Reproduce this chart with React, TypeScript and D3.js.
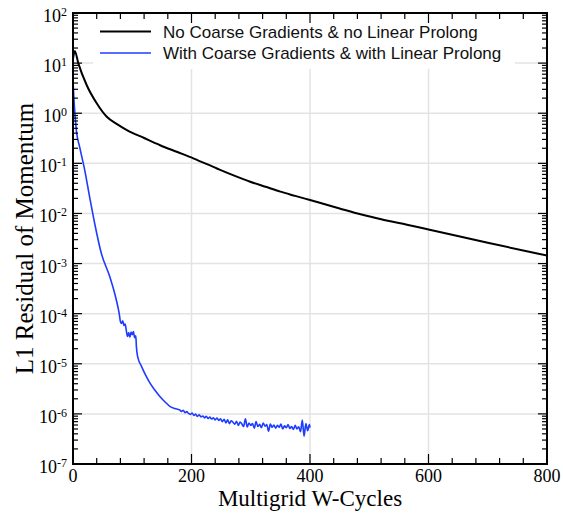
import * as d3 from "d3"

// black curve: no coarse gradients & no linear prolong
const blackIter = [0, 3, 9, 23, 40, 57, 75, 91, 120, 147, 175, 203, 243, 270, 299, 325, 350, 375, 400, 450, 475, 501, 525, 550, 600, 700, 800]
const blackRes = [12, 17.5, 9.9, 3.66, 1.58, 0.85, 0.6, 0.46, 0.32, 0.23, 0.17, 0.126, 0.079, 0.0582, 0.043, 0.034, 0.0272, 0.0224, 0.0185, 0.0126, 0.01035, 0.0087, 0.0074, 0.00646, 0.0048, 0.0026, 0.00144]

// blue curve: with coarse gradients & with linear prolong
const blueIter = [
  0, 1.7, 5.6, 11.3, 19.7, 28, 36.6, 47.8, 62, 73,
  78, 80, 82, 84, 86, 88, 90, 92, 94, 96, 98, 100, 102, 104, 106, 107, 109,
  116, 123, 130, 138, 147, 155, 164, 172,
  180, 183, 186, 189, 192, 195, 198, 201, 204, 207, 210, 213, 216, 219, 222, 225, 228,
  231, 234, 237, 240, 243, 246, 249, 252, 255, 258, 261, 264, 267, 270, 273, 276, 279,
  282, 285, 288, 291, 294, 297, 300, 303, 306, 309, 312, 315, 318, 321, 324, 327, 330,
  333, 336, 339, 342, 345, 348, 351, 354, 357, 360, 363, 366, 369, 372, 375, 378, 381,
  384, 387, 390, 393, 396, 399, 400,
]
const blueRes = [
  4.5, 1.8, 0.46, 0.21, 0.074, 0.0215, 0.0063, 0.0016, 5.5e-4, 1.9e-4,
  1.0e-4, 7e-5, 6.4e-5, 7.2e-5, 5.8e-5, 6.2e-5, 4.6e-5, 3.5e-5, 4.2e-5, 3.4e-5, 4.3e-5, 3.8e-5, 4.4e-5, 3.3e-5, 3.6e-5, 2.2e-5, 1.4e-5,
  8.7e-6, 5.8e-6, 4.1e-6, 3.0e-6, 2.2e-6, 1.75e-6, 1.4e-6, 1.28e-6,
  1.2e-6, 1.12e-6, 1.18e-6, 1.06e-6, 1.11e-6, 1.02e-6, 9.8e-7, 1.04e-6, 9.3e-7, 9.9e-7, 8.9e-7, 9.6e-7, 8.7e-7, 9.1e-7, 8.3e-7, 9.0e-7, 8.1e-7,
  8.6e-7, 7.9e-7, 8.4e-7, 7.6e-7, 8.3e-7, 7.4e-7, 8.0e-7, 7.0e-7, 7.8e-7, 6.6e-7, 7.6e-7, 6.4e-7, 7.3e-7, 6.8e-7, 6.2e-7, 7.1e-7, 5.9e-7,
  6.9e-7, 6.3e-7, 5.6e-7, 8.0e-7, 5.5e-7, 6.6e-7, 5.9e-7, 6.4e-7, 5.2e-7, 7.0e-7, 5.6e-7, 6.2e-7, 5.3e-7, 6.6e-7, 5.7e-7, 6.1e-7, 4.5e-7,
  6.3e-7, 5.4e-7, 6.0e-7, 5.2e-7, 5.9e-7, 5.4e-7, 6.3e-7, 5.0e-7, 5.8e-7, 5.3e-7, 6.1e-7, 5.1e-7, 5.6e-7, 4.9e-7, 5.9e-7, 5.0e-7, 5.5e-7,
  4.4e-7, 7.5e-7, 3.6e-7, 6.4e-7, 4.6e-7, 6.1e-7, 5.3e-7,
]

const seriesNames = [
  "No Coarse Gradients & no Linear Prolong",
  "With Coarse Gradients & with Linear Prolong",
]
const seriesColors = ["#000000", "#1e3cff"]

const xTicks = [0, 200, 400, 600, 800]
const yExponents = [2, 1, 0, -1, -2, -3, -4, -5, -6, -7]

const W = 563
const H = 514
const left = 73
const right = 547
const top = 13
const bottom = 464

const serif = "'Liberation Serif', 'Times New Roman', serif"
const sans = "'Liberation Sans', Arial, sans-serif"

export default function App() {
  const x = d3.scaleLinear().domain([0, 800]).range([left, right])
  const y = d3.scaleLog().domain([1e-7, 1e2]).range([bottom, top])

  const line = d3
    .line<[number, number]>()
    .x((d) => x(d[0]))
    .y((d) => y(d[1]))
    .curve(d3.curveMonotoneX)

  const blackPts = blackIter.map((v, i) => [v, blackRes[i]] as [number, number])
  const bluePts = blueIter.map((v, i) => [v, blueRes[i]] as [number, number])

  const xMinor = d3.range(0, 801, 40).filter((v) => v % 200 !== 0)
  const yMinor: number[] = []
  for (let e = -7; e < 2; e++) {
    for (let m = 2; m <= 9; m++) yMinor.push(m * Math.pow(10, e))
  }

  return (
    <svg
      width={W}
      height={H}
      style={{ position: "absolute", left: 0, top: 0, background: "#fff" }}
    >
      <defs>
        <clipPath id="plot">
          <rect x={left} y={top} width={right - left} height={bottom - top} />
        </clipPath>
      </defs>

      {/* grid */}
      <g stroke="#e3e3e3" strokeWidth={1.5}>
        {xTicks.slice(1, -1).map((t) => (
          <line key={"gx" + t} x1={x(t)} x2={x(t)} y1={top} y2={bottom} />
        ))}
        {yExponents.slice(1, -1).map((e) => (
          <line key={"gy" + e} x1={left} x2={right} y1={y(Math.pow(10, e))} y2={y(Math.pow(10, e))} />
        ))}
      </g>

      {/* legend background */}
      <rect x={93} y={top + 1} width={422} height={55} fill="#fff" />

      {/* curves */}
      <g clipPath="url(#plot)" fill="none">
        <path d={line(blackPts) || ""} stroke={seriesColors[0]} strokeWidth={2} />
        <path d={line(bluePts) || ""} stroke={seriesColors[1]} strokeWidth={1.6} strokeLinejoin="round" />
      </g>

      {/* ticks */}
      <g stroke="#000" strokeWidth={1.2}>
        {xMinor.map((t) => (
          <g key={"xm" + t}>
            <line x1={x(t)} x2={x(t)} y1={bottom} y2={bottom - 6} />
            <line x1={x(t)} x2={x(t)} y1={top} y2={top + 6} />
          </g>
        ))}
        {xTicks.map((t) => (
          <g key={"xM" + t}>
            <line x1={x(t)} x2={x(t)} y1={bottom} y2={bottom - 10} />
            <line x1={x(t)} x2={x(t)} y1={top} y2={top + 10} />
          </g>
        ))}
        {yMinor.map((v) => (
          <g key={"ym" + v}>
            <line x1={left} x2={left + 5} y1={y(v)} y2={y(v)} />
            <line x1={right} x2={right - 5} y1={y(v)} y2={y(v)} />
          </g>
        ))}
        {yExponents.map((e) => (
          <g key={"yM" + e}>
            <line x1={left} x2={left + 9} y1={y(Math.pow(10, e))} y2={y(Math.pow(10, e))} />
            <line x1={right} x2={right - 9} y1={y(Math.pow(10, e))} y2={y(Math.pow(10, e))} />
          </g>
        ))}
      </g>

      {/* frame */}
      <rect
        x={left}
        y={top}
        width={right - left}
        height={bottom - top}
        fill="none"
        stroke="#000"
        strokeWidth={2}
      />

      {/* x tick labels */}
      {xTicks.map((t) => (
        <text
          key={"xl" + t}
          x={x(t)}
          y={bottom + 18}
          textAnchor="middle"
          fontFamily={serif}
          fontSize={18}
          fill="#000"
        >
          {t}
        </text>
      ))}

      {/* y tick labels */}
      {yExponents.map((e) => {
        const ty = y(Math.pow(10, e))
        return (
          <g key={"yl" + e} fontFamily={serif} fill="#000">
            <text x={left - 6} y={ty + 9} textAnchor="end" fontSize={18}>
              <tspan>10</tspan>
              <tspan fontSize={12} dy={-6}>{String(e)}</tspan>
            </text>
          </g>
        )
      })}

      {/* axis titles */}
      <text
        x={(left + right) / 2}
        y={506}
        textAnchor="middle"
        fontFamily={serif}
        fontSize={23}
        fill="#000"
      >
        Multigrid W-Cycles
      </text>
      <text
        transform={`translate(33,${(top + bottom) / 2}) rotate(-90)`}
        textAnchor="middle"
        fontFamily={serif}
        fontSize={25}
        fill="#000"
      >
        L1 Residual of Momentum
      </text>

      {/* legend */}
      {seriesNames.map((name, i) => (
        <g key={name} transform={`translate(0,${31.5 + i * 21.5})`}>
          <line x1={100} x2={151} y1={0} y2={0} stroke={seriesColors[i]} strokeWidth={i === 0 ? 2 : 1.5} />
          <text x={163} y={6} fontFamily={sans} fontSize={17} fill="#111">
            {name}
          </text>
        </g>
      ))}
    </svg>
  )
}
